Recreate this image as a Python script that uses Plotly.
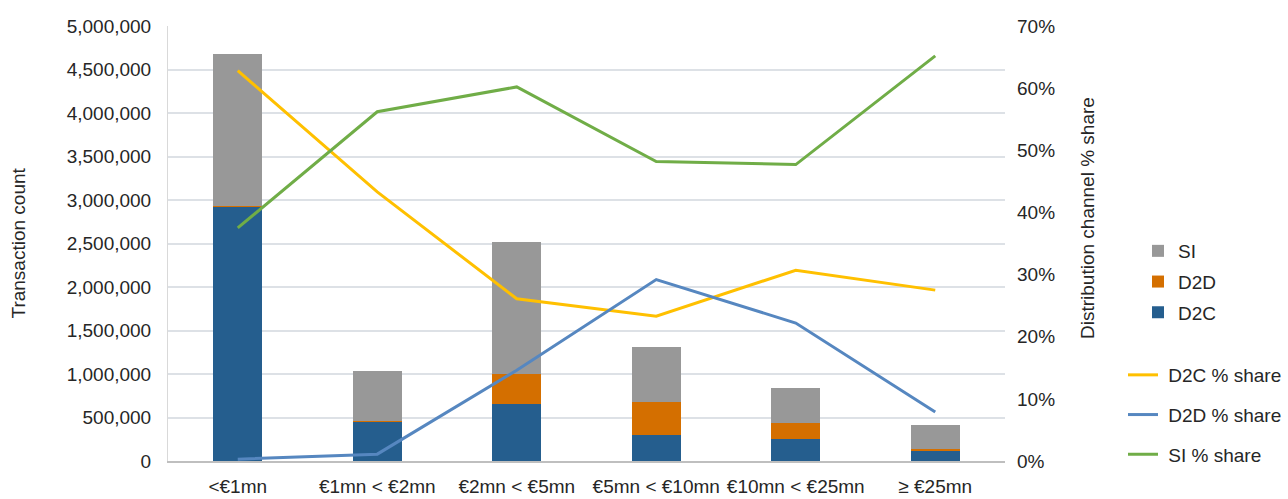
import plotly.graph_objects as go

categories = ["<€1mn", "€1mn < €2mn", "€2mn < €5mn", "€5mn < €10mn", "€10mn < €25mn", "≥ €25mn"]

# Transaction counts by distribution channel
d2c_count = [2920000, 452000, 655000, 300000, 253000, 111000]
d2d_count = [14000, 10000, 348000, 378000, 184000, 25000]
si_count = [1746000, 572000, 1514000, 632000, 402000, 276000]

# Channel share of transactions (%)
d2c_share = [62.8, 43.3, 26.1, 23.3, 30.7, 27.5]
d2d_share = [0.3, 1.1, 14.6, 29.2, 22.2, 7.9]
si_share = [37.5, 56.2, 60.2, 48.2, 47.7, 65.2]

y_ticks = [i * 500000 for i in range(11)]
y_ticktext = [f"{v:,}" for v in y_ticks]
y2_ticks = [i * 10 for i in range(8)]
y2_ticktext = [f"{v}%" for v in y2_ticks]

FONT = "Liberation Sans, Arial, Helvetica, sans-serif"
TXT = "#262626"
FS = 19

# plot area in pixels
L, R, T, B = 168, 1005, 26, 461
W, H = 1288, 499

fig = go.Figure()

bar_specs = [
    ("D2C", d2c_count, "#255E8E", 3),
    ("D2D", d2d_count, "#D46F00", 2),
    ("SI", si_count, "#989898", 1),
]
for name, vals, col, rank in bar_specs:
    fig.add_trace(go.Bar(
        x=categories, y=vals, name=name, marker=dict(color=col, line=dict(width=0)),
        legend="legend", legendgroup=name, legendrank=rank, width=0.35,
    ))

line_specs = [
    ("D2C % share", d2c_share, "#FFC000"),
    ("D2D % share", d2d_share, "#5687C0"),
    ("SI % share", si_share, "#70AD47"),
]
for name, vals, col in line_specs:
    fig.add_trace(go.Scatter(
        x=categories, y=vals, name="\u00a0" + name, mode="lines", yaxis="y2",
        line=dict(color=col, width=3), legend="legend2", legendgroup=name,
    ))

fig.update_layout(
    width=W, height=H,
    margin=dict(l=L, r=W - R, t=T, b=H - B),
    paper_bgcolor="white", plot_bgcolor="white",
    font=dict(family=FONT, size=FS, color=TXT),
    barmode="stack",
    xaxis=dict(
        type="category", showgrid=False, showline=True, linecolor="#BFBFBF", linewidth=2,
        ticks="", ticklabelstandoff=7, tickfont=dict(size=FS, color=TXT), automargin=False,
    ),
    yaxis=dict(
        range=[0, 5000000], tickmode="array", tickvals=y_ticks, ticktext=y_ticktext,
        showgrid=True, gridcolor="#DDE1E6", gridwidth=2, zeroline=False,
        showline=True, linecolor="#D9D9D9", linewidth=1, ticks="",
        ticklabelstandoff=12, tickfont=dict(size=FS, color=TXT), automargin=False,
    ),
    yaxis2=dict(
        range=[0, 70], overlaying="y", side="right", tickmode="array",
        tickvals=y2_ticks, ticktext=y2_ticktext, showgrid=False, zeroline=False,
        showline=False, ticks="", ticklabelstandoff=11, tickfont=dict(size=FS, color=TXT),
        automargin=False,
    ),
    legend=dict(
        xref="container", yref="container", x=1138 / W, y=1 - 232 / H,
        xanchor="left", yanchor="top", traceorder="grouped",
        tracegroupgap=3, font=dict(size=FS, color=TXT), bgcolor="rgba(0,0,0,0)",
    ),
    legend2=dict(
        xref="container", yref="container", x=1123 / W, y=1 - 356 / H,
        xanchor="left", yanchor="top", traceorder="grouped",
        tracegroupgap=12, font=dict(size=FS, color=TXT), bgcolor="rgba(0,0,0,0)",
    ),
    showlegend=True,
    annotations=[
        dict(text="Transaction count", xref="paper", yref="paper",
             x=(18 - L) / (R - L), y=0.5,
             textangle=-90, showarrow=False, xanchor="center", yanchor="middle",
             font=dict(size=FS, color=TXT)),
        dict(text="Distribution channel % share", xref="paper", yref="paper",
             x=(1087 - L) / (R - L), y=(B - 218) / (B - T),
             textangle=-90, showarrow=False, xanchor="center", yanchor="middle",
             font=dict(size=FS, color=TXT)),
    ],
)

fig.write_html("out.html")
